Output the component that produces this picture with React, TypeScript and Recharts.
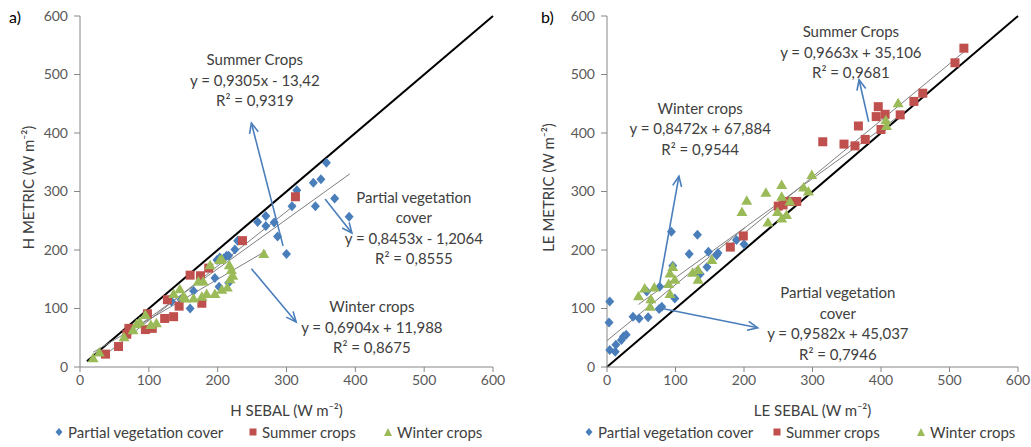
import React from "react";
import {
  ScatterChart,
  Scatter,
  XAxis,
  YAxis,
  ReferenceLine,
  ReferenceDot,
  Legend,
  Label,
} from "recharts";

type Pt = [number, number];

// H fluxes (W m-2): SEBAL on x, METRIC on y
const hPartial: Pt[] = [
  [133, 112], [147, 115], [160, 100], [165, 130], [196, 152], [202, 137], [216, 144],
  [199, 183], [203, 187], [209, 186], [213, 190], [216, 190], [225, 201], [229, 216],
  [258, 248], [270, 258], [270, 241], [282, 247], [287, 223], [300, 193], [308, 275],
  [315, 302], [339, 315], [350, 321], [358, 349], [342, 275], [370, 288], [391, 257],
];
const hSummer: Pt[] = [
  [37, 22], [56, 35], [68, 56], [71, 66], [95, 64], [105, 66], [98, 91], [123, 83],
  [136, 86], [127, 115], [144, 104], [160, 157], [175, 156], [187, 169], [177, 109],
  [236, 216], [313, 291],
];
const hWinter: Pt[] = [
  [19, 15], [28, 25], [64, 51], [77, 63], [82, 73], [87, 77], [95, 89], [103, 72],
  [111, 75], [136, 125], [145, 133], [153, 117], [150, 120], [165, 117], [177, 120],
  [184, 125], [196, 125], [206, 132], [214, 136], [172, 146], [179, 146], [189, 174],
  [203, 183], [206, 184], [217, 174], [220, 166], [222, 156], [218, 150], [267, 193],
];

// LE fluxes (W m-2)
const lePartial: Pt[] = [
  [4, 112], [3, 76], [4, 29], [12, 26], [13, 38], [21, 46], [24, 52], [28, 55],
  [38, 86], [47, 83], [60, 85], [58, 129], [76, 99], [80, 103], [77, 137], [99, 117],
  [96, 173], [94, 231], [120, 193], [132, 226], [136, 159], [146, 171], [148, 197],
  [160, 191], [162, 195], [189, 217], [200, 210],
];
const leSummer: Pt[] = [
  [180, 205], [199, 224], [250, 275], [257, 277], [265, 283], [277, 283], [315, 385],
  [346, 381], [362, 378], [367, 412], [377, 389], [393, 428], [396, 445], [400, 406],
  [406, 432], [428, 431], [448, 454], [461, 468], [508, 520], [521, 545],
];
const leWinter: Pt[] = [
  [46, 121], [55, 134], [69, 136], [64, 116], [63, 103], [92, 125], [90, 142],
  [92, 160], [96, 171], [99, 149], [125, 161], [133, 166], [133, 149], [153, 183],
  [197, 265], [204, 284], [232, 298], [235, 247], [249, 265], [255, 254], [255, 311],
  [255, 291], [262, 260], [267, 283], [287, 307], [294, 300], [299, 328], [407, 422],
  [408, 412], [425, 451],
];

// linear fits: [slope, intercept, r2, xFrom, xTo]
type Fit = [number, number, number, number, number];
const hFits: Record<string, Fit> = {
  summer: [0.9305, -13.42, 0.9319, 37, 313],
  partial: [0.8453, -1.2064, 0.8555, 60, 392],
  winter: [0.6904, 11.988, 0.8675, 19, 270],
};
const leFits: Record<string, Fit> = {
  summer: [0.9663, 35.106, 0.9681, 180, 521],
  partial: [0.9582, 45.037, 0.7946, 0, 201],
  winter: [0.8472, 67.884, 0.9544, 46, 425],
};

const AXIS_TICKS = [0, 100, 200, 300, 400, 500, 600];

const FONT = "Lato, 'Open Sans', sans-serif";
const BLUE = "#4A7EBB";
const RED = "#C0504D";
const GREEN = "#9BBB59";
const TEXT = "#404040";
const AXIS = "#868686";

const toRows = (pts: Pt[]) => pts.map(([x, y]) => ({ x, y }));
const dec = (n: number) => String(n).replace(".", ",");
const eqText = (f: Fit) =>
  `y = ${dec(f[0])}x ${f[1] < 0 ? "-" : "+"} ${dec(Math.abs(f[1]))}`;
const r2Text = (f: Fit) => `R² = ${dec(f[2])}`;

const diamond = (p: any) => (
  <polygon
    points={`${p.cx},${p.cy - 5} ${p.cx + 4.5},${p.cy} ${p.cx},${p.cy + 5} ${p.cx - 4.5},${p.cy}`}
    fill={BLUE}
  />
);
const square = (p: any) => (
  <rect x={p.cx - 4.5} y={p.cy - 4.5} width={9} height={9} fill={RED} />
);
const triangle = (p: any) => (
  <polygon
    points={`${p.cx},${p.cy - 5.5} ${p.cx + 5.5},${p.cy + 4} ${p.cx - 5.5},${p.cy + 4}`}
    fill={GREEN}
  />
);

const arrowShape = (p: any) => {
  const { x1, y1, x2, y2 } = p;
  const a = Math.atan2(y2 - y1, x2 - x1);
  const len = 11;
  const s = 0.42;
  const ax = x2 - len * Math.cos(a - s);
  const ay = y2 - len * Math.sin(a - s);
  const bx = x2 - len * Math.cos(a + s);
  const by = y2 - len * Math.sin(a + s);
  return (
    <g stroke={BLUE} strokeWidth={1.6} fill="none">
      <line x1={x1} y1={y1} x2={x2} y2={y2} />
      <polyline points={`${ax},${ay} ${x2},${y2} ${bx},${by}`} />
    </g>
  );
};

const noteShape = (lines: string[]) => (p: any) => (
  <text
    x={p.cx}
    y={p.cy}
    textAnchor="middle"
    dominantBaseline="central"
    fontFamily={FONT}
    fontSize={15}
    fill={TEXT}
  >
    {lines.map((l, i) => (
      <tspan key={i} x={p.cx} dy={i === 0 ? 0 : 20.5}>
        {l}
      </tspan>
    ))}
  </text>
);

const LegendMark = ({ kind }: { kind: string }) => (
  <svg width={10} height={10} style={{ marginRight: 4 }}>
    {kind === "d" && <polygon points="5,1 8.5,5 5,9 1.5,5" fill={BLUE} />}
    {kind === "s" && <rect x={1.5} y={1.5} width={7} height={7} fill={RED} />}
    {kind === "t" && <polygon points="5,1 9,9 1,9" fill={GREEN} />}
  </svg>
);

const makeLegend = (xs: number[]) => () => {
  const items = [
    ["d", "Partial vegetation cover"],
    ["s", "Summer crops"],
    ["t", "Winter crops"],
  ];
  return (
    <div style={{ position: "relative", height: 22, fontFamily: FONT, fontSize: 15, color: TEXT }}>
      {items.map(([k, label], i) => (
        <div
          key={k}
          style={{
            position: "absolute",
            left: xs[i] - 5,
            top: 2,
            display: "flex",
            alignItems: "center",
            whiteSpace: "nowrap",
          }}
        >
          <LegendMark kind={k} />
          {label}
        </div>
      ))}
    </div>
  );
};

interface Note {
  at: [number, number];
  lines: string[];
}

interface PanelProps {
  tag: string;
  left: number;
  width: number;
  marginRight: number;
  yAxisWidth: number;
  xTitle: string;
  yTitle: string;
  yTitleX: number;
  partial: Pt[];
  summer: Pt[];
  winter: Pt[];
  fits: Record<string, Fit>;
  oneToOne: [number, number];
  notes: Note[];
  arrows: [Pt, Pt][];
  legendX: number[];
}

function Panel(props: PanelProps) {
  const { fits } = props;
  const tick = { fill: "#595959", fontSize: 14, fontFamily: FONT };
  return (
    <div style={{ position: "absolute", left: props.left, top: 0 }}>
      <ScatterChart
        width={props.width}
        height={447}
        margin={{ top: 16, right: props.marginRight, bottom: 4, left: 10 }}
      >
        <XAxis
          type="number"
          dataKey="x"
          domain={[0, 600]}
          ticks={AXIS_TICKS}
          height={54}
          tick={tick}
          tickSize={5}
          tickMargin={3}
          axisLine={{ stroke: AXIS }}
          tickLine={{ stroke: AXIS }}
        >
          <Label
            content={(lp: any) => {
              const vb = lp.viewBox || {};
              return (
                <text
                  x={vb.x + vb.width / 2}
                  y={vb.y + 43}
                  textAnchor="middle"
                  dominantBaseline="central"
                  fontFamily={FONT}
                  fontSize={15}
                  fill={TEXT}
                >
                  {props.xTitle}
                </text>
              );
            }}
          />
        </XAxis>
        <YAxis
          type="number"
          dataKey="y"
          domain={[0, 600]}
          ticks={AXIS_TICKS}
          width={props.yAxisWidth}
          tick={tick}
          tickSize={6}
          tickMargin={6}
          axisLine={{ stroke: AXIS }}
          tickLine={{ stroke: AXIS }}
        >
          <Label
            content={(lp: any) => {
              const vb = lp.viewBox || {};
              const cy = vb.y + vb.height / 2 - 4;
              return (
                <text
                  x={props.yTitleX}
                  y={cy}
                  transform={`rotate(-90 ${props.yTitleX} ${cy})`}
                  textAnchor="middle"
                  dominantBaseline="central"
                  fontFamily={FONT}
                  fontSize={15}
                  fill={TEXT}
                >
                  {props.yTitle}
                </text>
              );
            }}
          />
        </YAxis>

        {/* 1:1 line */}
        <ReferenceLine
          segment={[
            { x: props.oneToOne[0], y: props.oneToOne[0] },
            { x: props.oneToOne[1], y: props.oneToOne[1] },
          ]}
          stroke="#000"
          strokeWidth={2}
        />

        {/* fitted lines */}
        {Object.keys(fits).map((k) => {
          const [a, b, , x0, x1] = fits[k];
          return (
            <ReferenceLine
              key={k}
              segment={[
                { x: x0, y: a * x0 + b },
                { x: x1, y: a * x1 + b },
              ]}
              stroke="#7F7F7F"
              strokeWidth={1}
            />
          );
        })}

        <Scatter name="Partial vegetation cover" data={toRows(props.partial)} shape={diamond} isAnimationActive={false} />
        <Scatter name="Summer crops" data={toRows(props.summer)} shape={square} isAnimationActive={false} />
        <Scatter name="Winter crops" data={toRows(props.winter)} shape={triangle} isAnimationActive={false} />

        {props.arrows.map(([from, to], i) => (
          <ReferenceLine
            key={`arrow-${i}`}
            segment={[
              { x: from[0], y: from[1] },
              { x: to[0], y: to[1] },
            ]}
            shape={arrowShape}
          />
        ))}

        {props.notes.map((n, i) => (
          <ReferenceDot
            key={`note-${i}`}
            x={n.at[0]}
            y={n.at[1]}
            r={0}
            shape={noteShape(n.lines)}
          />
        ))}

        <Legend
          verticalAlign="bottom"
          content={makeLegend(props.legendX)}
          wrapperStyle={{ left: 0, width: props.width, height: 22 }}
        />
      </ScatterChart>
      <span
        style={{
          position: "absolute",
          left: props.tag === "a)" ? 9 : 21,
          top: 7,
          fontFamily: FONT,
          fontSize: 16,
          color: "#000",
        }}
      >
        {props.tag}
      </span>
    </div>
  );
}

export default function App() {
  return (
    <div style={{ position: "absolute", left: 0, top: 0, width: 1031, height: 447, background: "#fff" }}>
      <Panel
        tag="a)"
        left={0}
        width={515}
        marginRight={22}
        yAxisWidth={70}
        xTitle="H SEBAL (W m⁻²)"
        yTitle="H METRIC (W m⁻²)"
        yTitleX={28}
        partial={hPartial}
        summer={hSummer}
        winter={hWinter}
        fits={hFits}
        oneToOne={[10, 600]}
        notes={[
          { at: [254, 526], lines: ["Summer Crops", eqText(hFits.summer), r2Text(hFits.summer)] },
          { at: [485, 291], lines: ["Partial vegetation", "cover", eqText(hFits.partial), r2Text(hFits.partial)] },
          { at: [424, 104], lines: ["Winter crops", eqText(hFits.winter), r2Text(hFits.winter)] },
        ]}
        arrows={[
          [[295, 207], [249, 417]],
          [[356, 287], [395, 229]],
          [[249, 168], [314, 77]],
        ]}
        legendX={[59, 253, 388]}
      />
      <Panel
        tag="b)"
        left={520}
        width={511}
        marginRight={13}
        yAxisWidth={77}
        xTitle="LE SEBAL (W m⁻²)"
        yTitle="LE METRIC (W m⁻²)"
        yTitleX={28}
        partial={lePartial}
        summer={leSummer}
        winter={leWinter}
        fits={leFits}
        oneToOne={[0, 600]}
        notes={[
          { at: [356, 574], lines: ["Summer Crops", eqText(leFits.summer), r2Text(leFits.summer)] },
          { at: [136, 443], lines: ["Winter crops", eqText(leFits.winter), r2Text(leFits.winter)] },
          { at: [337, 128], lines: ["Partial vegetation", "cover", eqText(leFits.partial), r2Text(leFits.partial)] },
        ]}
        arrows={[
          [[382, 419], [368, 491]],
          [[76, 137], [105, 326]],
          [[77, 101], [220, 67]],
        ]}
        legendX={[69, 257, 401]}
      />
    </div>
  );
}
